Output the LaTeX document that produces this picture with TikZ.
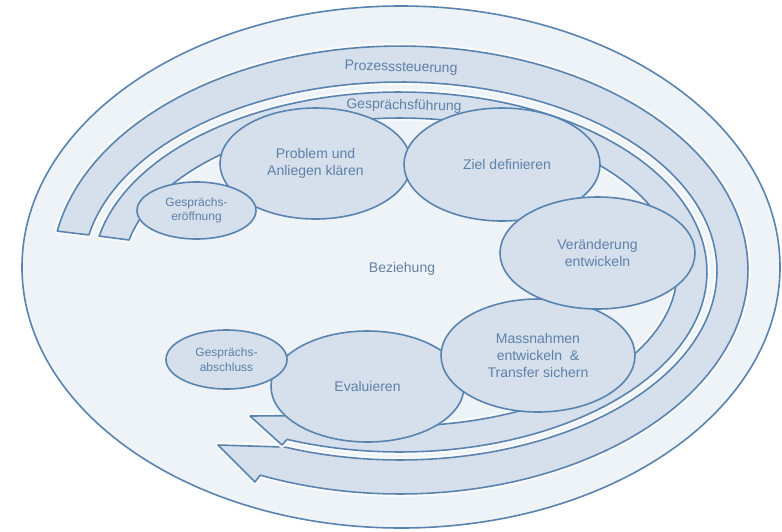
\documentclass[tikz,border=0pt]{standalone}
\usepackage{fontspec}
\setmainfont{Liberation Sans}
\usetikzlibrary{shapes.geometric}
\definecolor{edgec}{HTML}{5A84AF}
\definecolor{fillc}{HTML}{D5E0EC}
\definecolor{bgc}{HTML}{EEF3F8}
\definecolor{txtc}{HTML}{5F80A7}
\definecolor{gapc}{HTML}{F8FAFC}
\tikzset{
  stage/.style={ellipse, draw=edgec, fill=fillc, line width=1.6pt, inner sep=0pt,
    align=center, text=txtc, font=\fontsize{14}{17}\selectfont},
  smallstage/.style={stage, font=\fontsize{12}{14.5}\selectfont},
  band/.style={draw=edgec, fill=fillc, line width=1.6pt, line join=round},
  halo/.style={draw=gapc, line width=6pt, line join=round},
  lbl/.style={text=txtc, font=\fontsize{14}{17}\selectfont, inner sep=0pt},
}
\newcommand{\ProzessBand}{plot[domain=190:473.7,samples=120] ({400+348*cos(\x)},{270+224*sin(\x)})
  -- (255,482) -- (218,445)
  -- plot[domain=471.3:191,samples=120] ({400+317*cos(\x)},{271+189*sin(\x)}) -- cycle}
\newcommand{\GespraechBand}{plot[domain=191.5:471.6,samples=120] ({400+307*cos(\x)},{272+180*sin(\x)})
  -- (282,445) -- (250,416)
  -- plot[domain=471.2:192,samples=120] ({400+277*cos(\x)},{272+154*sin(\x)}) -- cycle}
\begin{document}
\begin{tikzpicture}[x=1pt,y=-1pt]
\useasboundingbox (0,0) rectangle (782,531);
\fill[white] (0,0) rectangle (782,531);
% relationship ellipse (background)
\node[ellipse, draw=edgec, fill=bgc, line width=1.6pt, inner sep=0pt,
      minimum width=758pt, minimum height=522pt] (rel) at (401,267) {};
% process control arrow
\path[halo] \ProzessBand;
\path[band] \ProzessBand;
% conversation guidance arrow
\path[halo] \GespraechBand;
\path[band] \GespraechBand;
% stages
\node[stage, minimum width=191pt, minimum height=111pt] (problem) at (315.5,163.5) {Problem und\\Anliegen klären};
\node[stage, minimum width=196pt, minimum height=113pt] (ziel) at (502,164.5) {\hspace*{10pt}Ziel definieren};
\node[stage, minimum width=193pt, minimum height=111pt] (eval) at (367.5,386.5) {Evaluieren};
\node[stage, minimum width=194pt, minimum height=113pt] (mass) at (538,355.5) {Massnahmen\\entwickeln \ \&\\Transfer sichern};
\node[stage, minimum width=195pt, minimum height=112pt] (ver) at (597.5,253) {Veränderung\\entwickeln};
\node[smallstage, minimum width=119pt, minimum height=57pt] (start) at (196.5,210.5) {Gesprächs-\\eröffnung};
\node[smallstage, minimum width=121pt, minimum height=59pt] (ende) at (226.5,359.5) {Gesprächs-\\abschluss};
% labels
\node[lbl, rotate=-1.5] (ps) at (401,68) {Prozesssteuerung};
\node[lbl, rotate=-1.5] (gf) at (404,106) {Gesprächsführung};
\node[lbl] (bez) at (402,269) {Beziehung};
\end{tikzpicture}
\end{document}
